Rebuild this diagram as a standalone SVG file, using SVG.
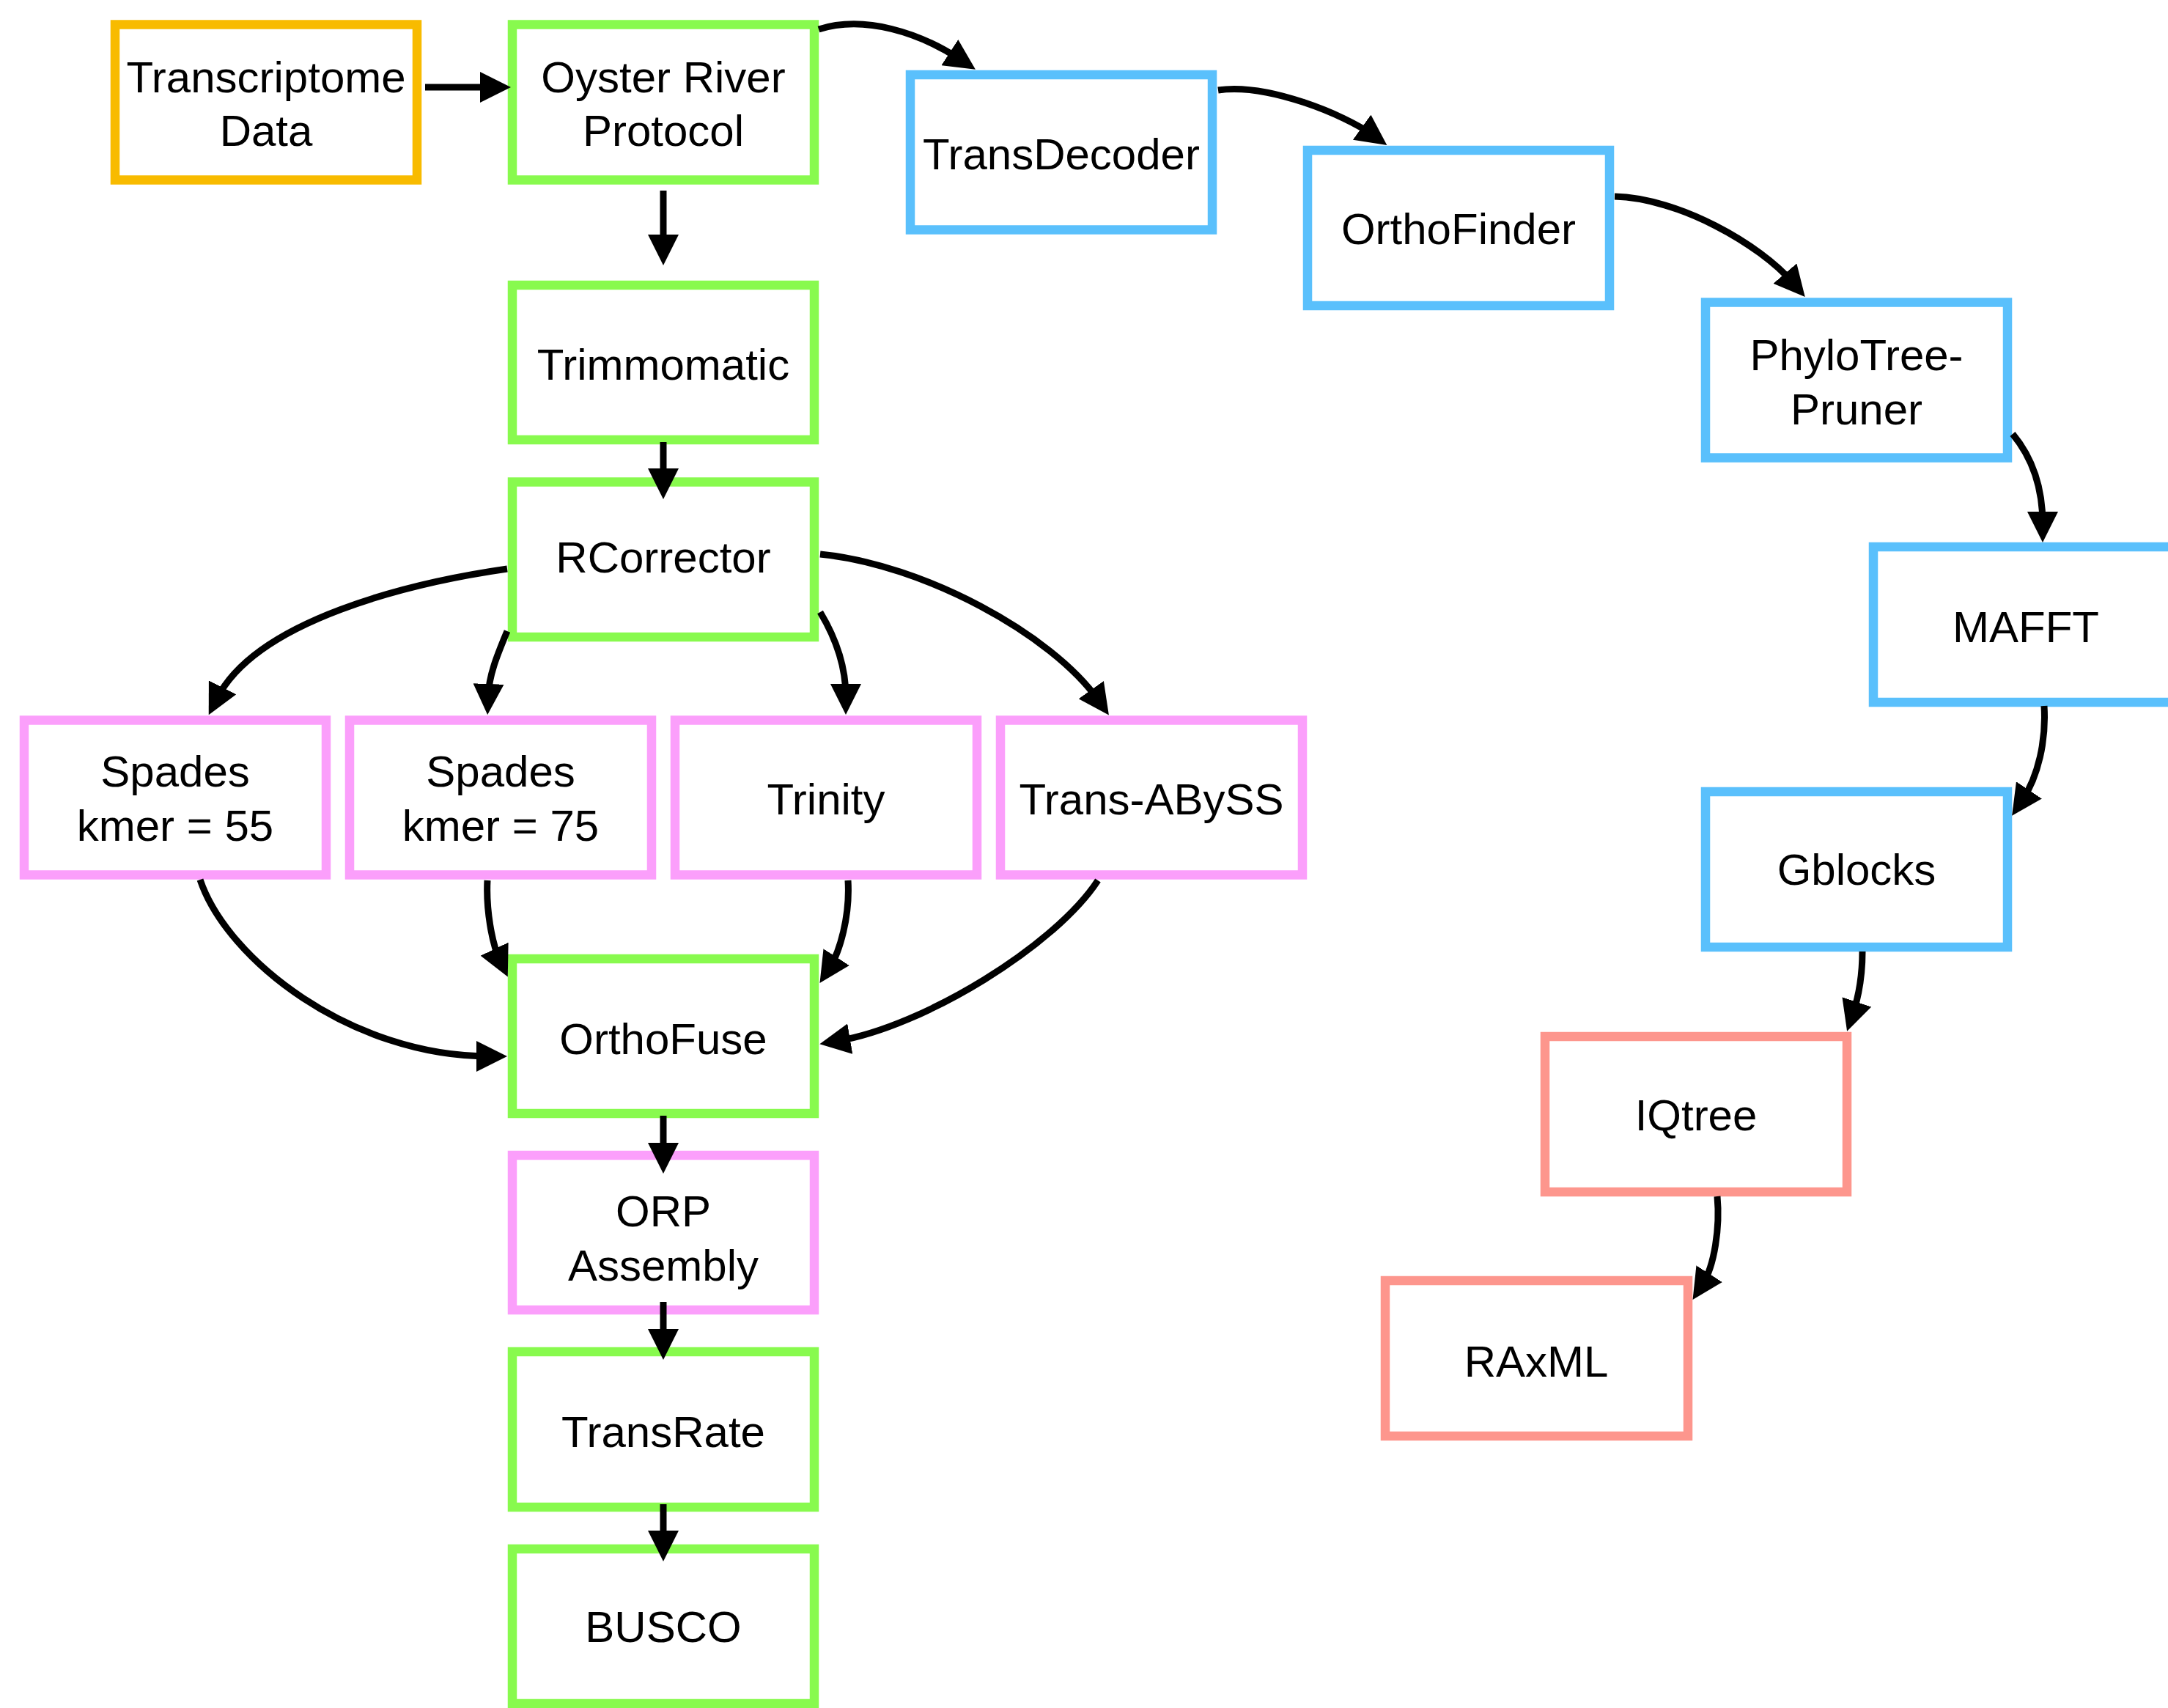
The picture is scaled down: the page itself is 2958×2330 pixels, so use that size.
<svg xmlns="http://www.w3.org/2000/svg" width="2958" height="2330" viewBox="0 0 2958 2330">
<defs>
<style>
.box{fill:#ffffff;stroke-width:12.5}
.orange{stroke:#F8BB00}
.green{stroke:#88FA4E}
.pink{stroke:#FB9FFB}
.blue{stroke:#5AC0FC}
.salmon{stroke:#FD968D}
text{font-family:"Liberation Sans",Arial,Helvetica,sans-serif;font-size:60px;fill:#000000;text-anchor:middle}
.edge{fill:none;stroke:#000000;stroke-width:9;marker-end:url(#ah)}
</style>
<marker id="ah" viewBox="0 0 42 42" markerWidth="42" markerHeight="42" markerUnits="userSpaceOnUse" refX="17" refY="21" orient="auto">
<path d="M0,0 L42,21 L0,42 Z" fill="#000000"/>
</marker>
</defs>
<rect width="2958" height="2330" fill="#ffffff"/>
<g id="nodes">
<g id="transcriptome"><rect class="box orange" x="157" y="33.5" width="412" height="212"/><text x="363" y="126">Transcriptome</text><text x="363" y="199">Data</text></g>
<g id="orp"><rect class="box green" x="699" y="33.5" width="412" height="212"/><text x="905" y="126">Oyster River</text><text x="905" y="199">Protocol</text></g>
<g id="trimmomatic"><rect class="box green" x="699" y="389" width="412" height="211"/><text x="905" y="518">Trimmomatic</text></g>
<g id="rcorrector"><rect class="box green" x="699" y="657.5" width="412" height="211.5"/><text x="905" y="781">RCorrector</text></g>
<g id="spades55"><rect class="box pink" x="33" y="982.5" width="412" height="211"/><text x="239" y="1073">Spades</text><text x="239" y="1147">kmer = 55</text></g>
<g id="spades75"><rect class="box pink" x="477" y="982.5" width="412" height="211"/><text x="683" y="1073">Spades</text><text x="683" y="1147">kmer = 75</text></g>
<g id="trinity"><rect class="box pink" x="921" y="982.5" width="412" height="211"/><text x="1127" y="1111">Trinity</text></g>
<g id="transabyss"><rect class="box pink" x="1365" y="982.5" width="412" height="211"/><text x="1571" y="1111">Trans-ABySS</text></g>
<g id="orthofuse"><rect class="box green" x="699" y="1308" width="412" height="211"/><text x="905" y="1438">OrthoFuse</text></g>
<g id="orpassembly"><rect class="box pink" x="699" y="1576" width="412" height="211"/><text x="905" y="1673">ORP</text><text x="905" y="1747">Assembly</text></g>
<g id="transrate"><rect class="box green" x="699" y="1844" width="412" height="212"/><text x="905" y="1974">TransRate</text></g>
<g id="busco"><rect class="box green" x="699" y="2113" width="412" height="211"/><text x="905" y="2240">BUSCO</text></g>
<g id="transdecoder"><rect class="box blue" x="1242" y="102" width="412" height="211.5"/><text x="1448" y="231">TransDecoder</text></g>
<g id="orthofinder"><rect class="box blue" x="1784" y="205" width="412" height="212"/><text x="1990" y="333">OrthoFinder</text></g>
<g id="phylotreepruner"><rect class="box blue" x="2327" y="412.5" width="412" height="212"/><text x="2533" y="505">PhyloTree-</text><text x="2533" y="579">Pruner</text></g>
<g id="mafft"><rect class="box blue" x="2556" y="746" width="412" height="212"/><text x="2764" y="876">MAFFT</text></g>
<g id="gblocks"><rect class="box blue" x="2327" y="1080" width="412" height="212"/><text x="2533" y="1207">Gblocks</text></g>
<g id="iqtree"><rect class="box salmon" x="2108" y="1414" width="412" height="212"/><text x="2314" y="1542">IQtree</text></g>
<g id="raxml"><rect class="box salmon" x="1890" y="1747" width="413" height="212"/><text x="2096" y="1878">RAxML</text></g>
</g>
<g id="connectors">
<path class="edge" d="M580,119 L672,119"/>
<path class="edge" d="M905,260 L905,337"/>
<path class="edge" d="M905,603 L905,656"/>
<path class="edge" d="M905,1522 L905,1576"/>
<path class="edge" d="M905,1776 L905,1830"/>
<path class="edge" d="M905,2052 L905,2105"/>
<path class="edge" d="M1117,40 C1180,20 1255,45 1310,81"/>
<path class="edge" d="M1662,123 C1730,113 1835,157 1872,183.5"/>
<path class="edge" d="M2203,268 C2290,270 2401,333 2446.5,386"/>
<path class="edge" d="M2746,592 C2771,622 2787,660 2787,715"/>
<path class="edge" d="M2789,963 C2792,1010 2781,1059 2759,1092"/>
<path class="edge" d="M2541,1298 C2541,1330 2536,1359 2528,1383"/>
<path class="edge" d="M2343,1632 C2347,1675 2339,1727 2323,1752"/>
<path class="edge" d="M692,776 C560,795 350,846 296,953"/>
<path class="edge" d="M692,861 C680,890 667,920 666,950"/>
<path class="edge" d="M1119,835 C1140,870 1154,910 1154,950"/>
<path class="edge" d="M1119,756 C1260,770 1435,865 1498.5,955"/>
<path class="edge" d="M273,1200 C310,1310 480,1441 667,1441"/>
<path class="edge" d="M665,1201 C663,1240 671,1287 682,1310"/>
<path class="edge" d="M1157,1201 C1160,1250 1145.5,1299 1132,1320"/>
<path class="edge" d="M1498,1201 C1440,1290 1261,1400 1143,1420"/>
</g>
</svg>
